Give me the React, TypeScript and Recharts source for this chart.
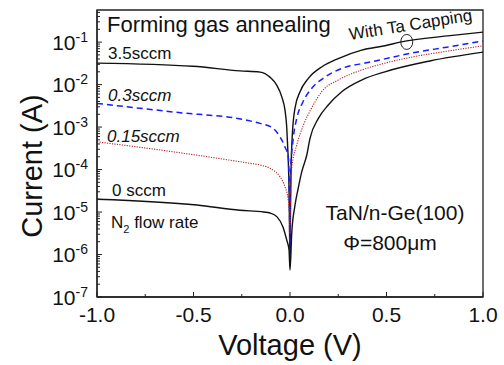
import React from "react";
import { LineChart, Line, XAxis, YAxis, ReferenceArea, ReferenceDot } from "recharts";

// voltage (V) / current (A)
const v35 = [-1.0, -0.503, -0.259, -0.155, -0.104, -0.069, -0.043, -0.026, -0.017, -0.012, -0.009, -0.004, 0, 0.002, 0.005, 0.012, 0.026, 0.052, 0.095, 0.164, 0.25, 0.371, 0.492, 0.57, 0.829, 1.0];
const i35 = [3.2e-2, 2.7e-2, 2.1e-2, 1.97e-2, 1.5e-2, 9.7e-3, 5.2e-3, 2.5e-3, 1.0e-3, 3.4e-4, 1.7e-4, 1.9e-5, 5.7e-7, 6.5e-6, 7.4e-5, 6.5e-4, 2.8e-3, 6.8e-3, 1.4e-2, 2.6e-2, 4.1e-2, 6.5e-2, 8.2e-2, 0.1, 0.142, 0.172];

const v03 = [-1.0, -0.6, -0.207, -0.155, -0.087, -0.052, -0.026, -0.009, -0.003, 0, 0.002, 0.017, 0.035, 0.067, 0.112, 0.181, 0.268, 0.404, 0.466, 0.637, 0.813, 1.0];
const i03 = [3.6e-3, 2.25e-3, 1.4e-3, 1.22e-3, 9.3e-4, 5.9e-4, 3.4e-4, 2.0e-4, 1.9e-5, 9.7e-7, 7.4e-5, 5.5e-4, 1.6e-3, 3.9e-3, 8.1e-3, 1.5e-2, 2.4e-2, 3.3e-2, 3.8e-2, 5.6e-2, 7.6e-2, 0.106];

const v015 = [-1.0, -0.6, -0.207, -0.155, -0.088, -0.052, -0.026, -0.009, -0.004, 0, 0.003, 0.009, 0.035, 0.069, 0.112, 0.164, 0.25, 0.371, 0.492, 0.637, 0.813, 1.0];
const i015 = [4.5e-4, 2.6e-4, 1.4e-4, 1.28e-4, 9.7e-5, 6.8e-5, 3.9e-5, 1.9e-5, 1.1e-5, 2.9e-6, 2.5e-5, 1.08e-4, 3.8e-4, 1.1e-3, 2.8e-3, 6.8e-3, 1.28e-2, 2.2e-2, 3.2e-2, 4.5e-2, 6.1e-2, 8.2e-2];

const v0 = [-1.0, -0.482, -0.259, -0.136, -0.104, -0.067, -0.036, -0.017, -0.005, 0, 0.009, 0.026, 0.043, 0.061, 0.087, 0.104, 0.147, 0.198, 0.268, 0.371, 0.492, 0.725, 1.0];
const i0 = [2.0e-5, 1.46e-5, 1.1e-5, 1.0e-5, 9.5e-6, 7.7e-6, 4.4e-6, 2.2e-6, 1.28e-6, 4.3e-7, 3.2e-6, 1.46e-5, 3.7e-5, 8.9e-5, 2.2e-4, 5.5e-4, 1.6e-3, 3.3e-3, 6.8e-3, 1.28e-2, 2.0e-2, 3.6e-2, 5.8e-2];

const xTicks = [-1, -0.75, -0.5, -0.25, 0, 0.25, 0.5, 0.75, 1];
const xLabels = [-1, -0.5, 0, 0.5, 1];
const decades = [-7, -6, -5, -4, -3, -2, -1];
const yMax = 0.57;

const toRows = (vs: number[], is: number[]) => vs.map((v, k) => ({ v, i: is[k] }));

const yTicks: number[] = [];
decades.forEach((d) => {
  for (let m = 1; m <= 9; m++) {
    const t = m * Math.pow(10, d);
    if (t <= yMax) yTicks.push(Number(t.toPrecision(2)));
  }
});

const font = "'Liberation Sans', Arial, sans-serif";

const YTick = (props: any) => {
  const { x, y, payload } = props;
  const val = payload.value;
  const exp = Math.log10(val);
  const major = Math.abs(exp - Math.round(exp)) < 1e-6;
  return (
    <g>
      <line x1={x} x2={x + (major ? 5 : 3)} y1={y} y2={y} stroke="#222" strokeWidth={1} />
      {major && (
        <text x={x - 9} y={y + 7.5} textAnchor="end" fontFamily={font} fill="#111">
          <tspan fontSize={21}>10</tspan>
          <tspan fontSize={14} dy={-8}>{Math.round(exp)}</tspan>
        </text>
      )}
    </g>
  );
};

const XTick = (props: any) => {
  const { x, y, payload } = props;
  const val = payload.value;
  const major = xLabels.some((l) => Math.abs(l - val) < 1e-9);
  return (
    <g>
      <line x1={x} x2={x} y1={y} y2={y - (major ? 5 : 3)} stroke="#222" strokeWidth={1} />
      {major && (
        <text x={x} y={y + 25} textAnchor="middle" fontFamily={font} fontSize={21} fill="#111">
          {val.toFixed(1)}
        </text>
      )}
    </g>
  );
};

const Ellipse = (props: any) => (
  <ellipse cx={props.cx} cy={props.cy} rx={6} ry={7.5} fill="none" stroke="#222" strokeWidth={1} />
);

export default function App() {
  return (
    <div style={{ position: "fixed", left: 0, top: 0, width: 504, height: 365, background: "#fff" }}>
      <LineChart width={504} height={365} margin={{ top: 10, right: 21, bottom: 38, left: 0 }}>
        <XAxis
          type="number"
          dataKey="v"
          domain={[-1, 1]}
          ticks={xTicks}
          interval={0}
          tickSize={0}
          tickMargin={0}
          tickLine={false}
          tick={<XTick />}
          height={30}
          allowDataOverflow
          axisLine={{ stroke: "#222", strokeWidth: 1.3 }}
        />
        <YAxis
          type="number"
          scale="log"
          domain={[1e-7, yMax]}
          ticks={yTicks}
          interval={0}
          tickSize={0}
          tickMargin={0}
          tickLine={false}
          tick={<YTick />}
          width={97}
          allowDataOverflow
          axisLine={{ stroke: "#222", strokeWidth: 1.3 }}
        />
        <ReferenceArea x1={-1} x2={1} y1={1e-7} y2={yMax} fill="none" stroke="#222" strokeWidth={1.3} />
        <Line data={toRows(v35, i35)} dataKey="i" type="monotone" stroke="#111" strokeWidth={1.4} dot={false} isAnimationActive={false} />
        <Line data={toRows(v03, i03)} dataKey="i" type="monotone" stroke="#1a1aff" strokeWidth={1.5} strokeDasharray="6 4" dot={false} isAnimationActive={false} />
        <Line data={toRows(v015, i015)} dataKey="i" type="monotone" stroke="#b22222" strokeWidth={1.1} strokeDasharray="1.2 1.3" dot={false} isAnimationActive={false} />
        <Line data={toRows(v0, i0)} dataKey="i" type="monotone" stroke="#111" strokeWidth={1.4} dot={false} isAnimationActive={false} />
        <ReferenceDot x={0.605} y={0.101} r={6} shape={<Ellipse />} />
      </LineChart>
      <svg width={504} height={365} style={{ position: "absolute", left: 0, top: 0, pointerEvents: "none" }} fontFamily={font} fill="#111">
        <text x={107} y={32} fontSize={22}>Forming gas annealing</text>
        <text x={350} y={40} fontSize={17} transform="rotate(-9 350 40)">With Ta Capping</text>
        <text x={108} y={59} fontSize={17}>3.5sccm</text>
        <text x={108} y={101} fontSize={17} fontStyle="italic">0.3sccm</text>
        <text x={107} y={142} fontSize={17} fontStyle="italic">0.15sccm</text>
        <text x={112} y={196} fontSize={17}>0 sccm</text>
        <text x={111} y={228} fontSize={17}>
          N<tspan fontSize={11} dy={5}>2</tspan>
          <tspan dy={-5}> flow rate</tspan>
        </text>
        <text x={395} y={220} fontSize={21} textAnchor="middle">TaN/n-Ge(100)</text>
        <text x={390} y={250} fontSize={21} textAnchor="middle">Φ=800μm</text>
        <text x={290} y={355} fontSize={29} textAnchor="middle">Voltage (V)</text>
        <text x={42} y={166} fontSize={29} textAnchor="middle" transform="rotate(-90 42 166)">Current (A)</text>
      </svg>
    </div>
  );
}
